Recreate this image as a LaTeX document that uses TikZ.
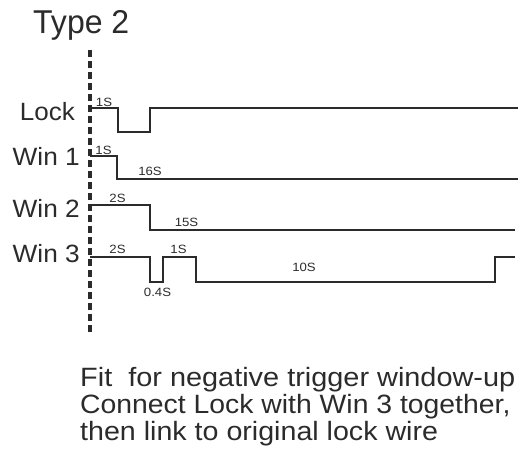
\documentclass[tikz,border=0pt]{standalone}
\usepackage{fontspec}
\setmainfont{Liberation Sans}
\usepackage{graphicx}
\definecolor{ink}{HTML}{2B2B2B}
\begin{document}
\begin{tikzpicture}[x=1pt,y=-1pt,
  sig/.style={draw=ink,line width=2.8pt,line join=miter},
  lbl/.style={font=\fontsize{25}{25}\selectfont,text=ink,anchor=base east,inner sep=0},
  dur/.style={font=\fontsize{12}{12}\selectfont,text=ink,anchor=base,inner sep=0},
  note/.style={font=\fontsize{26.5}{26.5}\selectfont,text=ink,anchor=base west,inner sep=0}]
\useasboundingbox (0,0) rectangle (520,455);
\node[anchor=base west,inner sep=0,font=\fontsize{33}{33}\selectfont,text=ink] (title) at (33,33) {\scalebox{0.97}[1]{Type 2}};
\coordinate (top) at (90,50);
\coordinate (bot) at (90,332);
\draw[ink,line width=3.6pt,dash pattern=on 7pt off 4pt] (top) -- (bot);
% labels
\node[lbl] (lock) at (75,120) {\scalebox{1.04}[1]{Lock}};
\node[lbl] (w1) at (80,165) {\scalebox{1.05}[1]{Win 1}};
\node[lbl] (w2) at (80,217) {\scalebox{1.05}[1]{Win 2}};
\node[lbl] (w3) at (80,262) {\scalebox{1.05}[1]{Win 3}};
% signals
\draw[sig] (90,108) -- (118,108) -- (118,132) -- (150,132) -- (150,108) -- (518,108);
\draw[sig] (90,156) -- (117,156) -- (117,179) -- (518,179);
\draw[sig] (90,205) -- (150,205) -- (150,230) -- (515,230);
\draw[sig] (90,257) -- (150,257) -- (150,282) -- (163,282) -- (163,257) -- (196,257) -- (196,282) -- (495,282) -- (495,257) -- (515,257);
% durations
\node[dur] (d1) at (104,106) {\scalebox{1.1}[1]{1S}};
\node[dur] (d2) at (103.5,154) {\scalebox{1.1}[1]{1S}};
\node[dur] (d3) at (150,175) {\scalebox{1.1}[1]{16S}};
\node[dur] (d4) at (117.5,202) {\scalebox{1.1}[1]{2S}};
\node[dur] (d5) at (186.5,226) {\scalebox{1.1}[1]{15S}};
\node[dur] (d6) at (117.5,253) {\scalebox{1.1}[1]{2S}};
\node[dur] (d7) at (178.5,253) {\scalebox{1.1}[1]{1S}};
\node[dur] (d8) at (157.5,296) {\scalebox{1.1}[1]{0.4S}};
\node[dur] (d9) at (304,271) {\scalebox{1.1}[1]{10S}};
% note
\node[note] (n1) at (80,386) {\scalebox{1.09}[1]{Fit\ \ for negative trigger window-up}};
\node[note] (n2) at (80,413) {\scalebox{1.07}[1]{Connect Lock with Win 3 together,}};
\node[note] (n3) at (80,440) {\scalebox{1.08}[1]{then link to original lock wire}};
\end{tikzpicture}
\end{document}
